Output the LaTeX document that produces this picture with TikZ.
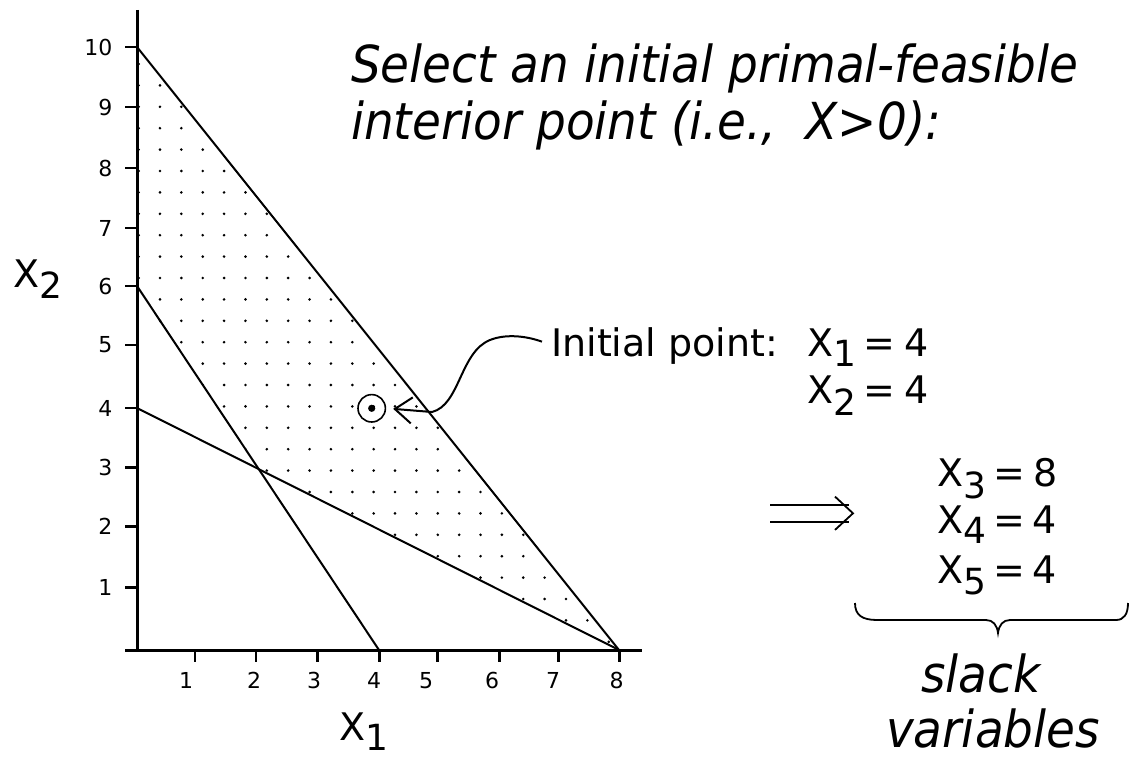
\documentclass[tikz,border=0pt]{standalone}
\usepackage{fontspec}
\setmainfont{DejaVu Sans}
\newfontfamily\ttlfont[FakeStretch=0.92]{DejaVu Sans}
\usetikzlibrary{arrows.meta}
\newcommand{\sbx}[3]{\hspace{#1}\raisebox{-#2}{\fontsize{36}{36}\selectfont #3}}
\begin{document}
\begin{tikzpicture}[x=1pt,y=-1pt,
  lbl/.style={font=\fontsize{22}{22}\selectfont, inner sep=0pt},
  eqn/.style={font=\fontsize{38}{40}\selectfont, inner sep=0pt, anchor=base west},
  ttl/.style={font=\ttlfont\itshape\fontsize{51}{60}\selectfont, inner sep=0pt},
  curve/.style={line width=2pt},
  axisline/.style={line width=3pt},
  tickline/.style={line width=2.5pt},
  thinline/.style={line width=1.8pt}]
\useasboundingbox (0,0) rectangle (1130,757);

% key points of the graph
\coordinate (Y10) at (137,47);
\coordinate (Y6) at (137,286);
\coordinate (Y4) at (137,408);
\coordinate (X4) at (379,650);
\coordinate (X8) at (619,650);
\coordinate (C) at (intersection of Y6--X4 and Y4--X8);

% dotted feasible region
\begin{scope}
\clip ([xshift=-1.5]Y10) -- (X8) -- (C) -- ([xshift=-1.5]Y6) -- cycle;
\foreach \i in {0,...,23}{\foreach \j in {0,...,27}{\fill (138.6+21.37*\i,64+21.4*\j) circle (1.45);}}
\end{scope}

% axes
\draw[axisline] (137,10) -- (137,651.5);
\draw[axisline] (125,650) -- (642,650);

\foreach \v/\yy in {10/47,9/107,8/168,7/228,6/286,5/345,4/408,3/467.7,2/526.7,1/587.7}{
  \draw[tickline] (125,\yy) -- (137,\yy);
  \node[lbl,anchor=east] (yl\v) at (112.5,\yy) {\v};
}
\foreach \xx/\lx/\v in {195/186/1,256/254/2,317.3/314/3,379.3/374/4,437.7/426/5,499.3/492/6,558.3/553/7,619.3/616.5/8}{
  \draw[tickline] (\xx,650) -- (\xx,661.5);
  \node[lbl] (xl\v) at (\lx,680.5) {\v};
}

% constraint lines
\draw[curve] (Y10) -- (X8);
\draw[curve] (Y6) -- (X4);
\draw[curve] (Y4) -- (X8);

% axis labels
\node[eqn] (x2lab) at (13,287) {X\sbx{0pt}{11pt}{2}};
\node[eqn] (x1lab) at (339,740) {X\sbx{0pt}{10pt}{1}};

% initial point
\node[circle, draw, line width=1.6pt, minimum size=27.4pt, inner sep=0pt] (pt) at (371.7,408.3) {};
\fill (pt.center) circle (3.6);

% title
\node[ttl, anchor=base west] (t1) at (351,83) {Select an initial primal-feasible};
\node[ttl, anchor=base west] (t2) at (351,140) {interior point (i.e.,\ \ X>0):};

% initial point label
\node[eqn] (init) at (551,356.7) {Initial point:};
\node[eqn] (e1) at (807,356.7) {X\sbx{0pt}{10pt}{1}\hspace{7pt}=\hspace{10pt}4};
\node[eqn] (e2) at (807,403.3) {X\sbx{0pt}{11.7pt}{2}\hspace{7pt}=\hspace{10pt}4};

\draw[curve, -{Straight Barb[length=17pt,width=26pt,line width=2pt]}, shorten >=7pt]
  ([shift={(-9,-15)}]init.base west) .. controls (525,335.5) and (505,334) .. (490,340)
  .. controls (460,352) and (460,405) .. (432,412) -- (pt.east);

% implication arrow
\coordinate (da1) at (770,513.3);
\coordinate (da2) at (853,513.3);
\draw[thinline] ([yshift=-8.3]da1) -- ([xshift=-4,yshift=-8.3]da2)
                ([yshift=8.4]da1) -- ([xshift=-4,yshift=8.4]da2);
\draw[thinline] ([xshift=-18,yshift=-16.6]da2) -- (da2) -- ([xshift=-18,yshift=16.7]da2);

% slack variables
\node[eqn] (e3) at (937,486.7) {X\sbx{0pt}{11.3pt}{3}\hspace{7pt}=\hspace{9pt}8};
\node[eqn] (e4) at (937,533) {X\sbx{0pt}{10pt}{4}\hspace{7pt}=\hspace{8pt}4};
\node[eqn] (e5) at (937,583.3) {X\sbx{0pt}{11pt}{5}\hspace{7pt}=\hspace{8pt}4};

\draw[thinline] (855,603) .. controls (855,615) and (862,620) .. (877,620) -- (986,620)
  .. controls (993,620) and (997,625) .. (998,633)
  .. controls (999,625) and (1003,620) .. (1010,620) -- (1116,620)
  .. controls (1124,620) and (1128,614) .. (1128,603);

\node[ttl, anchor=base] (slack) at (981,692) {slack};
\node[ttl, anchor=base] (vars) at (993,747) {variables};
\end{tikzpicture}
\end{document}
